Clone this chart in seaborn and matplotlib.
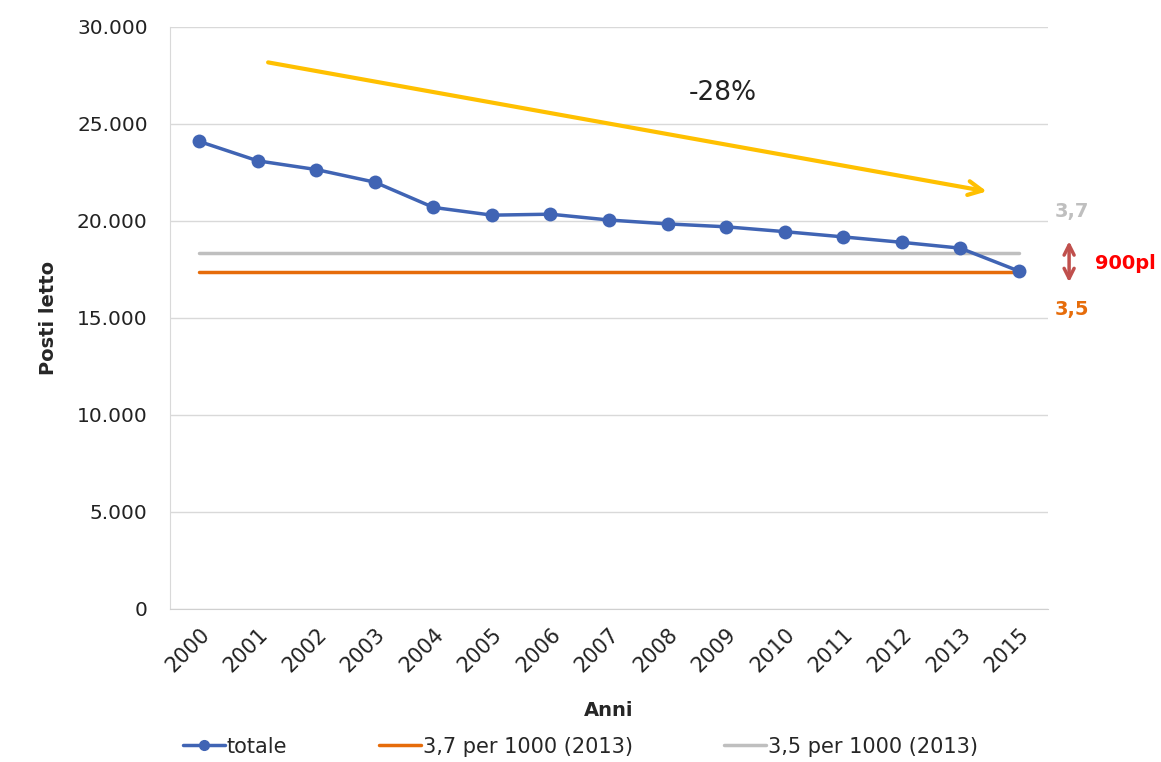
import pandas as pd
import seaborn as sns
import matplotlib.pyplot as plt
from matplotlib.lines import Line2D
from matplotlib.ticker import FuncFormatter

# dati
anni = ["2000", "2001", "2002", "2003", "2004", "2005", "2006", "2007",
        "2008", "2009", "2010", "2011", "2012", "2013", "2015"]
totale = [24100, 23100, 22650, 22000, 20700, 20300, 20350, 20050,
          19850, 19700, 19450, 19180, 18900, 18600, 17420]
soglia_37 = [17350] * len(anni)   # arancione
soglia_35 = [18350] * len(anni)   # grigio
y_ticks = [0, 5000, 10000, 15000, 20000, 25000, 30000]

df = pd.DataFrame({"Anni": anni, "totale": totale,
                   "s37": soglia_37, "s35": soglia_35})

blu = "#4064B4"
arancio = "#E66C0A"
grigio = "#BFBFBF"
giallo = "#FFC000"

sns.set_style("white")
fig = plt.figure(figsize=(11.61, 7.62), dpi=100)
ax = fig.add_axes([0.1464, 0.2008, 0.7563, 0.7638])

sns.lineplot(data=df, x="Anni", y="s35", color=grigio, lw=2.5, ax=ax, sort=False)
sns.lineplot(data=df, x="Anni", y="s37", color=arancio, lw=2.5, ax=ax, sort=False)
sns.lineplot(data=df, x="Anni", y="totale", color=blu, lw=2.5, marker="o",
             markersize=10, markeredgewidth=0, ax=ax, sort=False)

ax.set_xlim(-0.5, len(anni) - 0.5)
ax.set_ylim(0, 30000)
ax.set_yticks(y_ticks)
ax.yaxis.set_major_formatter(FuncFormatter(lambda v, p: f"{int(v):,}".replace(",", ".")))
ax.grid(axis="y", color="#D9D9D9", lw=1)
ax.set_axisbelow(True)
for s in ["top", "right"]:
    ax.spines[s].set_visible(False)
ax.spines["left"].set_color("#D9D9D9")
ax.spines["bottom"].set_color("#D0D0D0")
ax.tick_params(axis="y", labelsize=14.5, length=0, pad=16, colors="#222222")
ax.tick_params(axis="x", labelsize=15, length=0, pad=11, colors="#222222")
plt.setp(ax.get_xticklabels(), rotation=45, ha="right", rotation_mode="anchor")

ax.set_xlabel("Anni", fontsize=14, fontweight="bold", labelpad=18)
ax.set_ylabel("Posti letto", fontsize=14, fontweight="bold", labelpad=14)

# freccia gialla -28%
ax.annotate("", xy=(13.5, 21500), xytext=(1.13, 28200),
            arrowprops=dict(arrowstyle="->", lw=3, color=giallo, mutation_scale=25))
ax.text(8.95, 26600, "-28%", fontsize=19, ha="center", va="center", color="#222222")

# annotazioni a destra
ax.text(14.62, 20500, "3,7", color=grigio, fontsize=14, fontweight="bold",
        va="center", clip_on=False)
ax.text(14.62, 15450, "3,5", color=arancio, fontsize=14, fontweight="bold",
        va="center", clip_on=False)
ax.annotate("", xy=(14.86, 16700), xytext=(14.86, 19100), annotation_clip=False,
            arrowprops=dict(arrowstyle="<->", lw=2.5, color="#C0504D", mutation_scale=18))
ax.text(15.3, 17800, "900pl", color="#FF0000", fontsize=14, fontweight="bold",
        va="center", clip_on=False)

handles = [Line2D([], [], color=blu, lw=2.5, marker="o", markersize=7),
           Line2D([], [], color=arancio, lw=2.5),
           Line2D([], [], color=grigio, lw=2.5)]
labels = ["totale", "3,7 per 1000 (2013)", "3,5 per 1000 (2013)"]
fig.legend(handles, labels, loc="center", bbox_to_anchor=(0.5, 0.02), ncol=3,
           frameon=False, fontsize=15, handlelength=2.0, handletextpad=0.1,
           columnspacing=4.4)

fig.savefig("out.png", dpi=100)
